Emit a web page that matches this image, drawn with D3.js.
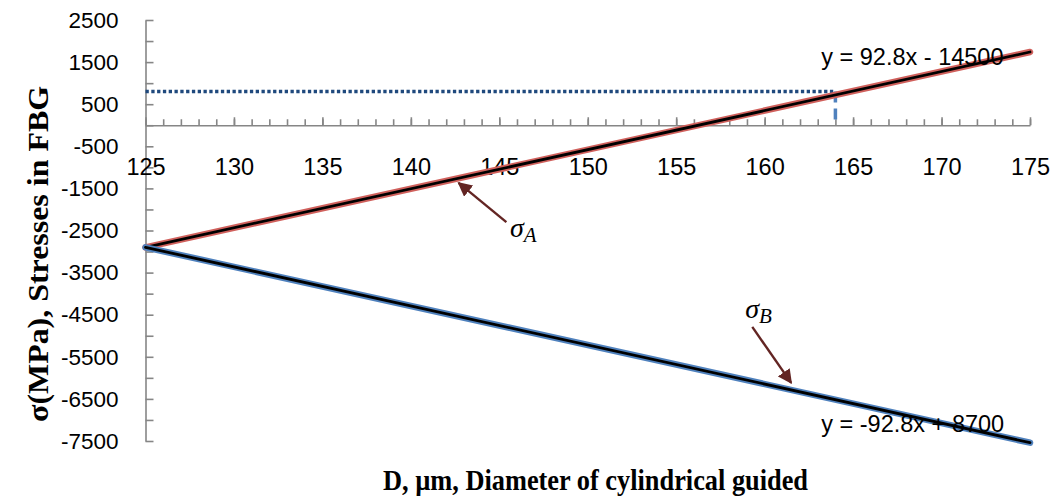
<!DOCTYPE html>
<html>
<head>
  <title>Stresses in FBG</title>
  <script src="https://d3js.org/d3.v7.min.js"></script>
  <style>
    body { margin: 0; background: #fff; }
  </style>
</head>
<body>
<script type="text/javascript">

// ****** DATA ******

  // diameter D (um) at both ends of each fitted line
  var diameters = [125, 175];
  // stresses (MPa) at those diameters
  var sigmaA = [-2900, 1740],
      sigmaB = [-2900, -7540];
  var yLabels = [-7500, -6500, -5500, -4500, -3500, -2500, -1500, -500, 500, 1500, 2500];
  var yTickMarks = d3.range(-7500, 2501, 500);
  var xLabels = [125, 130, 135, 140, 145, 150, 155, 160, 165, 170, 175];
  var xMinorTicks = d3.range(125, 176, 1);
  // reading of the operating point
  var markD = 164,
      markSigma = 800;
  var equations = ["y = 92.8x - 14500", "y = -92.8x + 8700"];
  // where the equations, arrows and sigma labels sit, in data units
  var eqPos = [[163.2, 1430], [163.2, -7290]];
  var arrowA = [[145.4, -2300], [142.7, -1370]],
      arrowB = [[159.3, -4790], [161.5, -6120]];
  var labelPos = [[145.6, -2660], [158.9, -4570]];
  var labelSub = ["A", "B"];

  var width = 1053,
      height = 500;

// ****** SCALES ******

  var x = d3.scaleLinear().domain([125, 175]).range([145.5, 1030]);
  var y = d3.scaleLinear().domain([-7500, 2500]).range([441, 20]);

  var svg = d3.select("body")
    .append("svg")
    .attr("width", width)
    .attr("height", height);

  var defs = svg.append("defs");
  defs.append("marker")
    .attr("id", "head")
    .attr("viewBox", "0 0 10 10")
    .attr("refX", 9)
    .attr("refY", 5)
    .attr("markerWidth", 6)
    .attr("markerHeight", 6)
    .attr("markerUnits", "strokeWidth")
    .attr("orient", "auto")
    .append("path")
    .attr("d", "M0,0L10,5L0,10z")
    .attr("fill", "#632523");

  var axisColor = "#868686";
  var tickFont = "'Liberation Sans', Arial, sans-serif";
  var plain = function (d) { return String(d); };

// ****** AXES ******

  // y axis line and ticks (ticks point inwards)
  var yAxisG = svg.append("g")
    .attr("transform", "translate(" + x(125) + ",0)")
    .call(d3.axisLeft(y).tickValues(yTickMarks).tickSize(-8).tickSizeOuter(0).tickFormat(""));
  yAxisG.selectAll("line, path").attr("stroke", axisColor).attr("stroke-width", 1.6);

  var yLabelG = svg.append("g")
    .attr("transform", "translate(" + x(125) + ",0)")
    .call(d3.axisLeft(y).tickValues(yLabels).tickSize(0).tickPadding(27).tickFormat(plain));
  yLabelG.select(".domain").remove();
  yLabelG.selectAll("text")
    .attr("fill", "#000")
    .style("font-family", tickFont)
    .style("font-size", "22.5px");

  // x axis sits on sigma = 0, ticks pointing up
  var xMinorG = svg.append("g")
    .attr("transform", "translate(0," + y(0) + ")")
    .call(d3.axisTop(x).tickValues(xMinorTicks).tickSize(6).tickSizeOuter(0).tickFormat(""));
  xMinorG.selectAll("line, path").attr("stroke", axisColor).attr("stroke-width", 1.6);

  var xMajorG = svg.append("g")
    .attr("transform", "translate(0," + y(0) + ")")
    .call(d3.axisTop(x).tickValues(xLabels).tickSize(8).tickFormat(""));
  xMajorG.select(".domain").remove();
  xMajorG.selectAll("line").attr("stroke", axisColor).attr("stroke-width", 1.6);

  var xLabelG = svg.append("g")
    .attr("transform", "translate(0," + y(0) + ")")
    .call(d3.axisBottom(x).tickValues(xLabels).tickSize(0).tickPadding(33).tickFormat(plain));
  xLabelG.select(".domain").remove();
  xLabelG.selectAll("text")
    .attr("fill", "#000")
    .style("font-family", tickFont)
    .style("font-size", "23.5px");

// ****** REFERENCE LINES ******

  svg.append("line")
    .attr("x1", x(125)).attr("x2", x(markD))
    .attr("y1", y(markSigma)).attr("y2", y(markSigma))
    .attr("stroke", "#1F497D")
    .attr("stroke-width", 3.5)
    .attr("stroke-dasharray", "3.3,2.5");

  svg.append("line")
    .attr("x1", x(markD)).attr("x2", x(markD))
    .attr("y1", y(markSigma)).attr("y2", y(0))
    .attr("stroke", "#4F81BD")
    .attr("stroke-width", 3.5)
    .attr("stroke-dasharray", "11,6");

// ****** STRESS LINES ******

  var line = d3.line()
    .x(function (d) { return x(d[0]); })
    .y(function (d) { return y(d[1]); });

  var series = [
    { vals: sigmaA, color: "#D0605C" },
    { vals: sigmaB, color: "#4F81BD" }
  ];

  series.forEach(function (s) {
    var pts = diameters.map(function (d, i) { return [d, s.vals[i]]; });
    svg.append("path")
      .attr("d", line(pts))
      .attr("fill", "none")
      .attr("stroke", s.color)
      .attr("stroke-width", 6.5)
      .attr("stroke-linecap", "round");
    svg.append("path")
      .attr("d", line(pts))
      .attr("fill", "none")
      .attr("stroke", "#000")
      .attr("stroke-width", 2.8)
      .attr("stroke-linecap", "round");
  });

// ****** ANNOTATIONS ******

  svg.selectAll(".eq")
    .data(equations)
    .enter()
    .append("text")
    .attr("class", "eq")
    .attr("x", function (d, i) { return x(eqPos[i][0]); })
    .attr("y", function (d, i) { return y(eqPos[i][1]); })
    .style("font-family", tickFont)
    .style("font-size", "23.5px")
    .attr("fill", "#000")
    .text(function (d) { return d; });

  [arrowA, arrowB].forEach(function (a) {
    svg.append("line")
      .attr("x1", x(a[0][0])).attr("y1", y(a[0][1]))
      .attr("x2", x(a[1][0])).attr("y2", y(a[1][1]))
      .attr("stroke", "#632523")
      .attr("stroke-width", 2.4)
      .attr("marker-end", "url(#head)");
  });

  labelPos.forEach(function (p, i) {
    var t = svg.append("text")
      .attr("x", x(p[0]))
      .attr("y", y(p[1]))
      .style("font-family", "'Liberation Serif', 'DejaVu Serif', serif")
      .style("font-style", "italic")
      .style("font-size", "28px")
      .attr("fill", "#000");
    t.append("tspan").text("σ");
    t.append("tspan").attr("dy", 5).style("font-size", "21px").text(labelSub[i]);
  });

// ****** TITLES ******

  var titleFont = "'Liberation Serif', 'Times New Roman', serif";

  svg.append("text")
    .attr("x", 383)
    .attr("y", 490)
    .attr("textLength", 425)
    .attr("lengthAdjust", "spacingAndGlyphs")
    .style("font-family", titleFont)
    .style("font-weight", "bold")
    .style("font-size", "30px")
    .text("D, µm, Diameter of cylindrical guided");

  svg.append("text")
    .attr("transform", "translate(48,254) rotate(-90)")
    .attr("text-anchor", "middle")
    .attr("textLength", 336)
    .attr("lengthAdjust", "spacingAndGlyphs")
    .style("font-family", titleFont)
    .style("font-weight", "bold")
    .style("font-size", "30px")
    .text("σ(MPa), Stresses in FBG");

</script>
</body>
</html>
